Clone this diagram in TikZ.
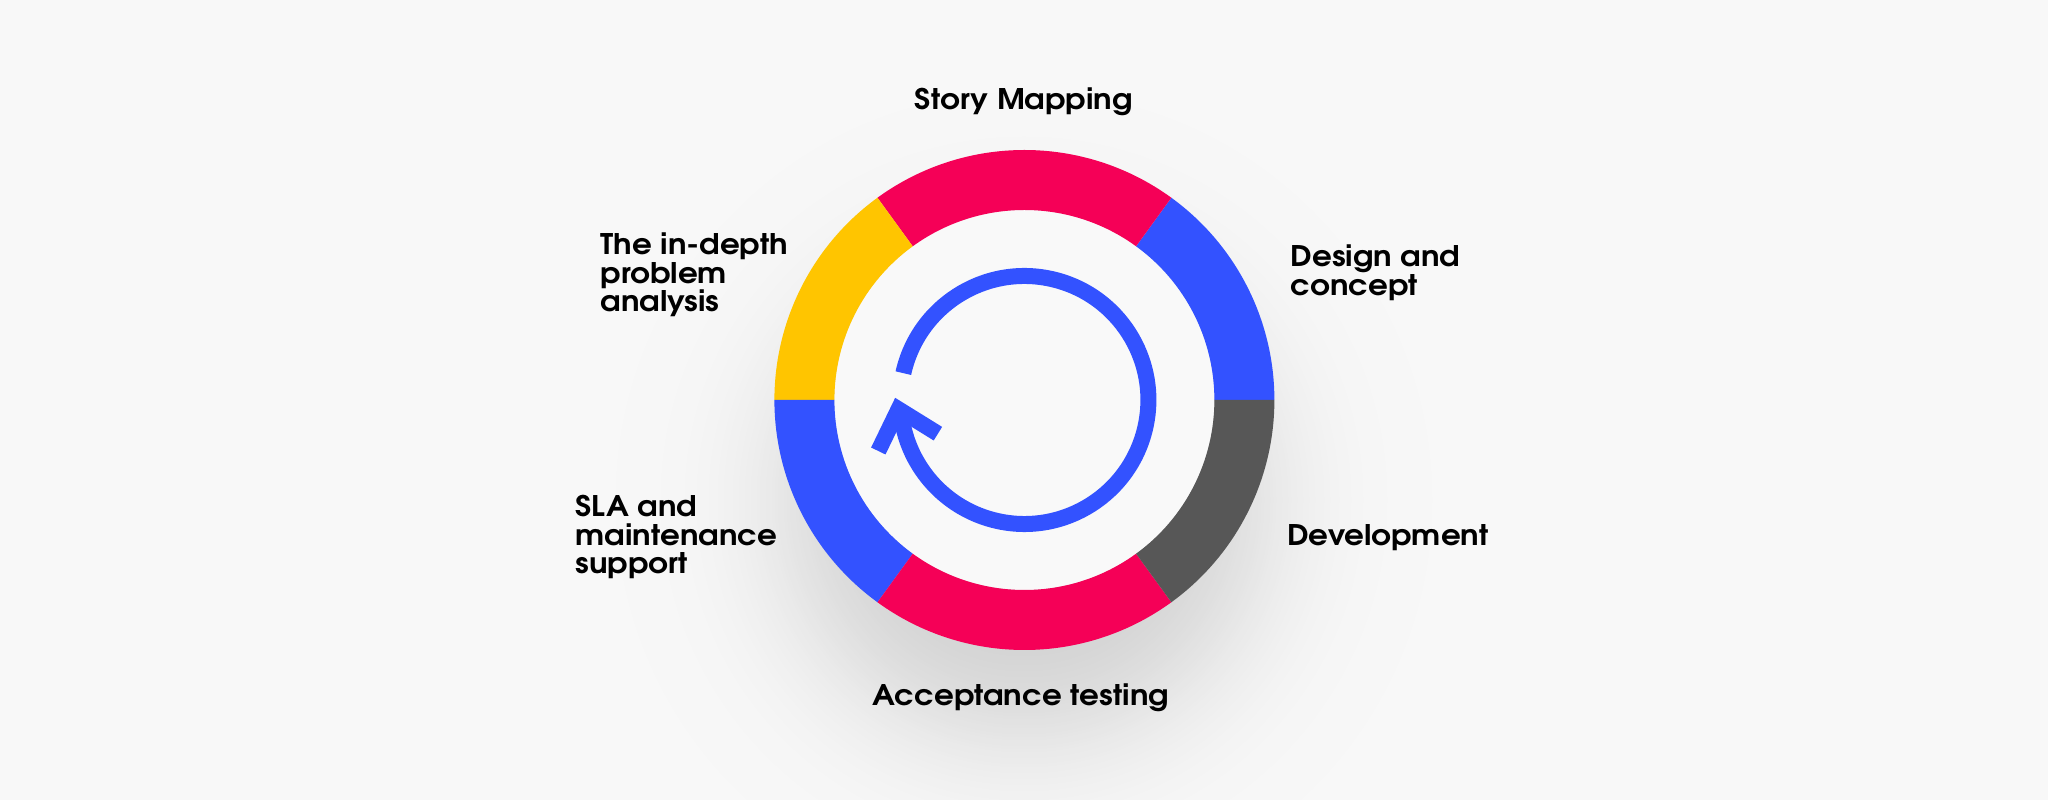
\documentclass[tikz,border=0pt]{standalone}
\usepackage{fontspec}
\setmainfont{texgyreadventor}[Extension=.otf,UprightFont=*-regular,BoldFont=*-bold,ItalicFont=*-italic,BoldItalicFont=*-bolditalic,FakeStretch=1.09]
\definecolor{bgc}{RGB}{248,248,248}
\definecolor{shc}{RGB}{208,208,208}
\definecolor{innerc}{RGB}{249,249,249}
\definecolor{ringred}{HTML}{F50057}
\definecolor{ringblue}{HTML}{3352FF}
\definecolor{ringyellow}{HTML}{FFC500}
\definecolor{ringgray}{HTML}{575757}
\tikzset{
  lbl/.style={inner sep=0pt, outer sep=0pt, text=black, font=\fontsize{28.5}{28.5}\selectfont\bfseries},
  cyclearrow/.style={draw=ringblue, line width=16bp, line cap=butt, line join=miter}
}
\newcommand{\ringseg}[3]{%
  \fill[#3] (#1:250) arc[start angle=#1, end angle=#2, radius=250] -- (#2:190) arc[start angle=#2, end angle=#1, radius=190] -- cycle;}
\begin{document}
\begin{tikzpicture}[x=1bp,y=1bp]
\useasboundingbox (0,0) rectangle (2048,800);
\fill[bgc] (0,0) rectangle (2048,800);
% soft shadow
\begin{scope}
\clip (0,0) rectangle (2048,800);
\foreach \r in {450,447,...,130}{
  \pgfmathsetmacro\p{100*(0.5-0.5*tanh((\r-232)/82))}
  \fill[shc!\p!bgc] (1024,300) circle (\r);
}
\end{scope}
% ring
\begin{scope}[shift={(1024.4,400)}]
  \fill[innerc] (0,0) circle (190);
  \ringseg{0}{54}{ringblue}
  \ringseg{54}{126}{ringred}
  \ringseg{126}{180}{ringyellow}
  \ringseg{180}{234}{ringblue}
  \ringseg{234}{306}{ringred}
  \ringseg{306}{360}{ringgray}
  % cycle arrow
  \draw[cyclearrow] (167.5:124) arc[start angle=167.5, end angle=-172, radius=124];
\end{scope}
\coordinate (armA) at (937.9,366.3);
\coordinate (tip) at (898.5,390.7);
\coordinate (armB) at (878.3,349);
\draw[cyclearrow] (armA) -- (tip) -- (armB);
% labels
\node[lbl, anchor=base] (story) at (1023.7,690.7) {Story Mapping};
\node[lbl, anchor=base west] (design) at (1290.7,533.3) {\parbox[t]{300bp}{\raggedright Design and\\concept}};
\node[lbl, anchor=base west] (dev) at (1287.3,254) {Development};
\node[lbl, anchor=base] (accept) at (1020.8,94) {Acceptance testing};
\node[lbl, anchor=base west] (analysis) at (600.7,545) {\parbox[t]{300bp}{\raggedright The in-depth\\problem\\analysis}};
\node[lbl, anchor=base west] (sla) at (575.7,283.3) {\parbox[t]{300bp}{\raggedright SLA and\\maintenance\\support}};
\end{tikzpicture}
\end{document}
